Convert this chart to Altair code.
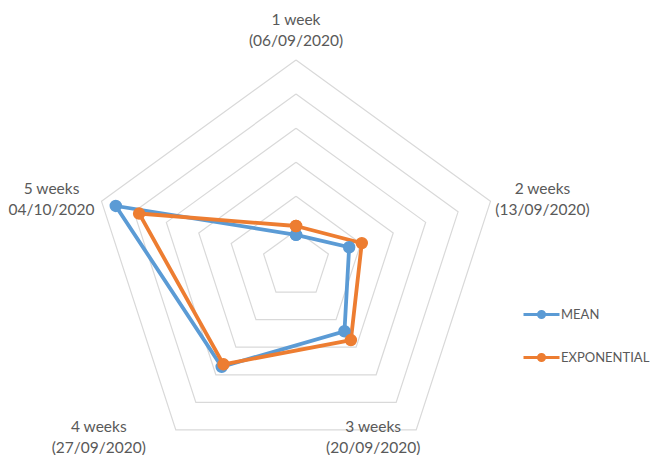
import altair as alt
import pandas as pd

# Radar chart: forecast error by horizon, two methods
categories = [
    "1 week\n(06/09/2020)",
    "2 weeks\n(13/09/2020)",
    "3 weeks\n(20/09/2020)",
    "4 weeks\n(27/09/2020)",
    "5 weeks\n04/10/2020",
]
series_names = ["MEAN", "EXPONENTIAL"]
mean_values = [0.87, 1.64, 2.42, 3.71, 5.56]
exp_values = [1.13, 2.03, 2.74, 3.62, 4.84]
ring_levels = [1, 2, 3, 4, 5, 6]
colors = ["#5B9BD5", "#ED7D31"]

n = len(categories)
r_max = ring_levels[-1]

# series polygons (first point repeated to close the shape)
rows = []
for name, vals in zip(series_names, [mean_values, exp_values]):
    for i, v in enumerate(vals + vals[:1]):
        rows.append({"series": name, "idx": i, "value": v})
series_df = pd.DataFrame(rows)

ring_rows = []
for lvl in ring_levels:
    for i in range(n + 1):
        ring_rows.append({"level": lvl, "idx": i, "value": lvl})
ring_df = pd.DataFrame(ring_rows)

label_df = pd.DataFrame({"idx": list(range(n)), "label": categories, "value": [r_max] * n})

W, H = 654, 455
unit = 34.08          # pixels per value unit
cx, cy = 296, 264.5   # pixel position of the centre
x_dom = [-cx / unit, (W - cx) / unit]
y_dom = [-(H - cy) / unit, cy / unit]

def polar(ch):
    return ch.transform_calculate(
        px=f"datum.value * sin(2 * PI * datum.idx / {n})",
        py=f"datum.value * cos(2 * PI * datum.idx / {n})",
    )

X = alt.X("px:Q", scale=alt.Scale(domain=x_dom, nice=False, zero=False), axis=None)
Y = alt.Y("py:Q", scale=alt.Scale(domain=y_dom, nice=False, zero=False), axis=None)

rings = polar(alt.Chart(ring_df)).mark_line(
    color="#D9D9D9", strokeWidth=1.2, interpolate="linear"
).encode(x=X, y=Y, detail="level:N", order="idx:Q")

color_scale = alt.Scale(domain=series_names, range=colors)

lines = polar(alt.Chart(series_df)).mark_line(strokeWidth=3.8).encode(
    x=X, y=Y,
    color=alt.Color("series:N", scale=color_scale, legend=None),
    order="idx:Q",
)

# legend symbol: short line with a small dot in the middle
legend_symbol = "M-1,0L1,0M-0.17,0A0.17,0.17,0,1,1,0.17,0A0.17,0.17,0,1,1,-0.17,0Z"

points = polar(alt.Chart(series_df)).mark_point(
    filled=False, size=120, opacity=1, strokeWidth=1.5
).encode(
    x=X, y=Y,
    color=alt.Color(
        "series:N", scale=color_scale, sort=series_names,
        legend=alt.Legend(
            title=None,
            orient="none",
            legendX=522,
            legendY=295,
            symbolType=legend_symbol,
            symbolSize=1296,
            symbolStrokeWidth=3,
            labelFont="Lato",
            labelFontSize=13,
            labelColor="#595959",
            labelOffset=0,
            rowPadding=14,
            padding=0,
        ),
    ),
    fill=alt.Fill("series:N", scale=color_scale, sort=series_names, legend=None),
)

# axis labels at the outer vertices, nudged the way each sits
offsets = [(0, -40), (52, -12), (-43, -3), (-77, -3), (-50, -12)]
label_layers = []
for i, (dx, dy) in enumerate(offsets):
    label_layers.append(
        polar(alt.Chart(label_df).transform_filter(f"datum.idx == {i}")).mark_text(
            font="Lato", fontSize=15.5, color="#595959", lineBreak="\n",
            lineHeight=21, align="center", baseline="middle", dx=dx, dy=dy,
        ).encode(x=X, y=Y, text="label:N")
    )

chart = alt.layer(rings, lines, points, *label_layers).resolve_legend(
    color="independent"
).properties(
    width=W, height=H, padding=0, autosize="none", background="white"
).configure_view(stroke=None)

chart.save("out.html", embed_options={"renderer": "svg", "actions": False})
